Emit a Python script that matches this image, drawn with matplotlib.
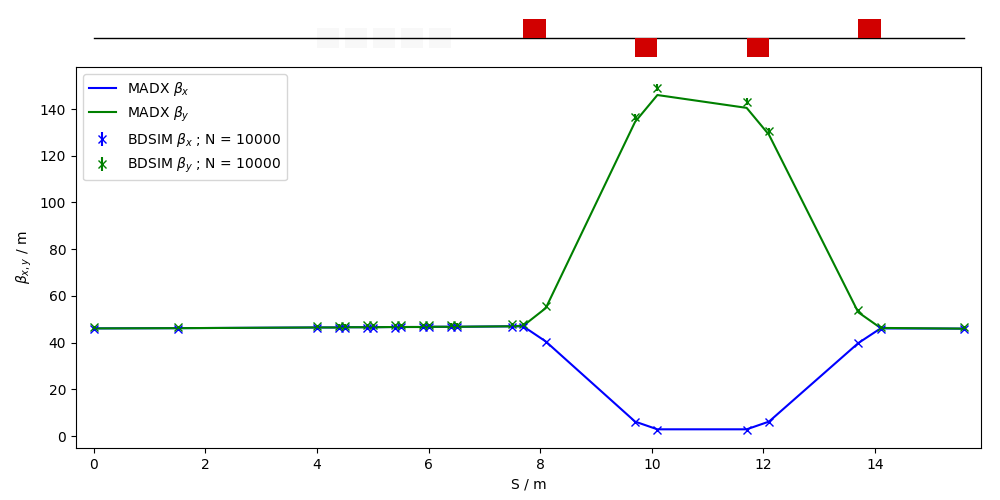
import matplotlib
matplotlib.use("Agg")
import matplotlib.pyplot as plt
from matplotlib.patches import Rectangle

# ---- data ----
S = [0.0, 1.5, 4.0, 4.4, 4.5, 4.9, 5.0, 5.4, 5.5, 5.9, 6.0, 6.4, 6.5,
     7.5, 7.7, 8.1, 9.7, 10.1, 11.7, 12.1, 13.7, 14.1, 15.6]

madx_betx = [46.1, 46.2, 46.5, 46.5, 46.6, 46.6, 46.6, 46.7, 46.7, 46.7, 46.8, 46.8, 46.8,
             47.0, 46.9, 40.5, 6.2, 2.9, 2.9, 6.2, 39.8, 46.1, 46.0]
madx_bety = [46.1, 46.2, 46.5, 46.5, 46.6, 46.6, 46.6, 46.7, 46.7, 46.7, 46.8, 46.8, 46.8,
             47.0, 47.3, 54.8, 134.5, 146.0, 140.5, 129.0, 53.0, 46.3, 46.0]

bdsim_betx = [45.8, 45.8, 46.2, 46.2, 46.3, 46.3, 46.4, 46.4, 46.5, 46.5, 46.5, 46.6, 46.6,
              46.9, 46.8, 40.2, 5.9, 2.6, 2.6, 6.1, 39.7, 46.0, 45.9]
bdsim_bety = [46.8, 46.8, 47.2, 47.3, 47.3, 47.4, 47.4, 47.5, 47.5, 47.5, 47.6, 47.7, 47.7,
              48.0, 48.0, 55.6, 136.5, 149.2, 143.2, 130.5, 53.9, 46.8, 46.8]

bdsim_betx_err = [0.5, 0.5, 0.5, 0.5, 0.5, 0.5, 0.5, 0.5, 0.5, 0.5, 0.5, 0.5, 0.5,
                  0.5, 0.5, 0.4, 0.1, 0.1, 0.1, 0.1, 0.4, 0.5, 0.5]
bdsim_bety_err = [0.5, 0.5, 0.5, 0.5, 0.5, 0.5, 0.5, 0.5, 0.5, 0.5, 0.5, 0.5, 0.5,
                  0.5, 0.5, 0.6, 1.4, 1.5, 1.4, 1.3, 0.6, 0.5, 0.5]

n_particles = 10000

# machine lattice: kind +1 focusing quad, -1 defocusing quad, 0 other element
elem_start = [4.0, 4.5, 5.0, 5.5, 6.0, 7.7, 9.7, 11.7, 13.7]
elem_length = [0.4, 0.4, 0.4, 0.4, 0.4, 0.4, 0.4, 0.4, 0.4]
elem_kind = [0, 0, 0, 0, 0, 1, -1, -1, 1]
machine_length = 15.6

# ---- figure ----
fig = plt.figure(figsize=(10, 5), dpi=100)
ax = fig.add_axes([0.076, 0.104, 0.905, 0.762])
axm = fig.add_axes([0.076, 0.87, 0.905, 0.13], sharex=ax)

ax.plot(S, madx_betx, color='b', lw=1.5, label=r'MADX $\beta_{x}$')
ax.plot(S, madx_bety, color='g', lw=1.5, label=r'MADX $\beta_{y}$')
ax.errorbar(S, bdsim_betx, yerr=bdsim_betx_err, fmt='x', color='b', ms=6,
            label=r'BDSIM $\beta_{x}$ ; N = %d' % n_particles)
ax.errorbar(S, bdsim_bety, yerr=bdsim_bety_err, fmt='x', color='g', ms=6,
            label=r'BDSIM $\beta_{y}$ ; N = %d' % n_particles)

ax.set_xlim(-0.32, 15.9)
ax.set_ylim(-5.1, 158)
ax.set_xlabel('S / m')
ax.set_ylabel(r'$\beta_{x,y}$ / m')
ax.legend(loc='upper left')

# machine diagram
axm.plot([0, machine_length], [0, 0], color='k', lw=1, zorder=5)
for s0, L, k in zip(elem_start, elem_length, elem_kind):
    if k == 0:
        axm.add_patch(Rectangle((s0, -0.55), L, 1.1, facecolor='#f8f8f8',
                                edgecolor='none', zorder=1))
    elif k > 0:
        axm.add_patch(Rectangle((s0, 0), L, 1.0, facecolor='#d10000',
                                edgecolor='none', zorder=6))
    else:
        axm.add_patch(Rectangle((s0, -1.0), L, 1.0, facecolor='#d10000',
                                edgecolor='none', zorder=6))
axm.set_ylim(-1.42, 2.0)
axm.axis('off')

fig.savefig('out.png', dpi=100)
